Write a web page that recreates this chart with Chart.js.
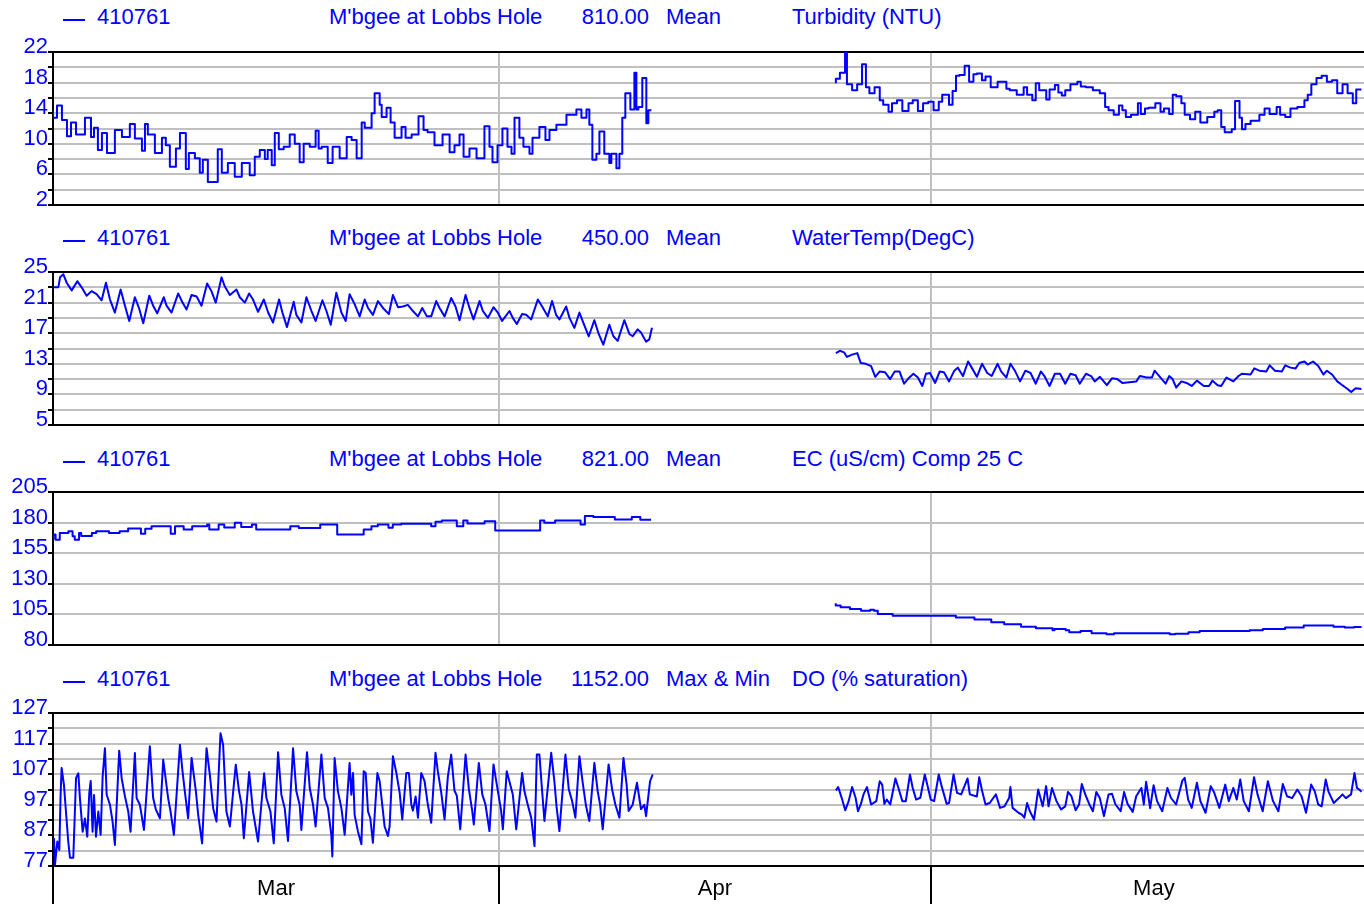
<!DOCTYPE html>
<html><head><meta charset="utf-8">
<script src="https://cdn.jsdelivr.net/npm/chart.js@4.4.1/dist/chart.umd.min.js"></script>
<style>
html,body{margin:0;padding:0;background:#fff;}
body{width:1364px;height:904px;position:relative;overflow:hidden;font-family:"Liberation Sans",Arial,sans-serif;}
.h{position:absolute;color:#0000ff;font-size:22px;line-height:24px;white-space:nowrap;}
.dash{position:absolute;height:0;width:22px;border-top:2px solid #0000ff;}
canvas{position:absolute;left:0;}
</style></head><body>
<script>
// ---------- header texts ----------
const siteId = '410761';
const siteName = "M'bgee at Lobbs Hole";
const varNumbers = ['810.00', '450.00', '821.00', '1152.00'];
const statNames = ['Mean', 'Mean', 'Mean', 'Max & Min'];
const varNames = ['Turbidity (NTU)', 'WaterTemp(DegC)', 'EC (uS/cm) Comp 25 C', 'DO (% saturation)'];

// ---------- x axis (days since 1 March) ----------
const monthLabels = ['Mar', 'Apr', 'May'];
const monthStarts = [0, 31, 61];
const monthMids = [15.5, 46, 76.5];
const dayMax = 91.1;

// ---------- y ticks ----------
const turbTicks = [2, 4, 6, 8, 10, 12, 14, 16, 18, 20, 22];
const turbLabels = [2, 6, 10, 14, 18, 22];
const tempTicks = [5, 7, 9, 11, 13, 15, 17, 19, 21, 23, 25];
const tempLabels = [5, 9, 13, 17, 21, 25];
const ecTicks = [80, 105, 130, 155, 180, 205];
const ecLabels = [80, 105, 130, 155, 180, 205];
const doTicks = [77, 82, 87, 92, 97, 102, 107, 112, 117, 122, 127];
const doLabels = [77, 87, 97, 107, 117, 127];

// ---------- series: [day, value] ----------
const turbidityA = [[0.00,14.4],[0.28,13.4],[0.62,15.0],[0.97,13.1],[1.25,11.0],[1.60,12.8],[2.22,11.2],[2.64,13.4],[2.85,10.9],[3.12,12.1],
[3.40,9.2],[3.75,11.4],[4.30,8.8],[4.79,11.8],[5.34,10.9],[5.69,12.6],[6.18,10.7],[6.39,9.1],[6.59,12.6],[7.08,11.2],
[7.57,8.8],[7.84,10.8],[8.12,9.8],[8.54,7.0],[8.82,9.4],[9.23,11.4],[9.44,6.7],[9.86,8.8],[10.20,8.1],[10.41,6.2],
[10.76,7.9],[11.45,5.0],[11.73,9.3],[12.15,6.2],[12.63,7.5],[13.12,5.7],[13.67,7.5],[14.02,5.9],[14.37,8.3],[14.72,9.2],
[14.92,8.0],[15.20,9.2],[15.41,7.2],[15.69,11.4],[16.03,9.3],[16.45,9.6],[16.80,11.2],[17.14,10.0],[17.42,7.6],[17.84,10.0],
[18.25,9.6],[18.46,11.7],[18.67,9.4],[19.09,9.6],[19.43,7.5],[19.92,9.6],[20.41,8.1],[20.75,10.9],[21.10,10.5],[21.45,8.1],
[21.66,12.8],[22.14,12.1],[22.35,14.0],[22.70,16.6],[22.84,15.1],[23.18,13.5],[23.46,14.7],[23.74,12.8],[24.22,10.8],[24.50,12.2],
[24.92,10.8],[25.40,11.2],[25.75,13.6],[26.03,11.8],[26.51,11.5],[27.07,9.8],[27.56,11.2],[27.90,8.9],[28.25,9.8],[28.53,11.2],
[28.94,8.3],[29.43,9.4],[29.98,8.1],[30.33,12.3],[30.54,9.6],[30.89,7.6],[31.23,9.8],[31.58,12.0],[31.86,9.6],[32.07,8.7],
[32.41,13.4],[32.69,10.8],[33.11,9.6],[33.32,8.7],[33.80,10.8],[34.22,12.2],[34.50,10.5],[34.98,11.8],[35.68,12.5],[36.37,13.8],
[36.72,14.5],[37.07,13.4],[37.27,14.5],[37.48,12.5],[37.76,7.9],[37.97,8.7],[38.31,11.6],[38.66,8.7],[38.80,7.5],[39.15,8.7],
[39.36,6.8],[39.56,8.7],[39.77,13.4],[40.12,16.6],[40.40,14.5],[40.54,19.3],[40.68,14.5],[40.95,14.8],[41.23,18.6],[41.37,12.7],[41.58,14.4]];

const turbidityB = [[54.40,17.9],[54.68,18.5],[55.04,19.3],[55.17,21.9],[55.53,17.8],[55.88,17.0],[56.22,17.8],[56.49,20.4],[56.73,17.4],[57.09,16.6],
[57.45,17.4],[57.69,15.7],[58.06,15.1],[58.30,14.2],[58.65,15.3],[59.02,15.7],[59.45,14.3],[59.74,15.3],[60.10,15.7],[60.46,14.3],
[60.82,15.3],[61.19,15.5],[61.55,14.4],[61.79,15.5],[62.26,16.4],[62.51,15.1],[62.75,16.9],[62.99,18.9],[63.35,19.0],[63.66,20.2],
[63.96,18.1],[64.20,19.1],[64.55,19.2],[64.80,18.3],[65.16,18.8],[65.64,17.4],[66.25,18.1],[66.48,17.2],[66.97,17.0],[67.45,16.4],
[67.69,17.4],[68.05,16.4],[68.29,15.7],[68.53,17.9],[69.02,17.0],[69.25,15.8],[69.62,17.1],[69.86,17.7],[70.10,16.7],[70.34,16.3],
[70.70,17.0],[71.18,17.8],[71.42,18.1],[71.78,17.5],[72.26,17.4],[72.74,17.0],[73.11,16.6],[73.35,14.8],[73.71,14.4],[74.07,13.8],
[74.31,15.0],[74.55,14.4],[74.91,13.5],[75.39,13.8],[75.59,15.3],[75.88,13.9],[76.12,14.6],[76.60,14.7],[76.96,15.3],[77.20,14.2],
[77.56,14.6],[77.81,13.9],[78.05,16.4],[78.41,16.2],[78.64,15.3],[79.01,13.8],[79.37,13.2],[79.73,14.2],[80.21,12.8],[80.70,13.5],
[80.93,14.2],[81.18,14.4],[81.42,12.2],[81.91,11.5],[82.14,11.9],[82.45,15.6],[82.62,13.4],[82.86,11.9],[83.22,12.6],[83.83,13.0],
[84.19,13.8],[84.54,14.6],[85.03,13.9],[85.27,14.8],[85.63,13.8],[85.99,13.5],[86.47,14.6],[86.96,14.8],[87.19,15.7],[87.44,16.4],
[87.80,17.8],[88.16,18.6],[88.52,18.9],[88.88,18.1],[89.24,18.3],[89.61,16.6],[89.96,17.8],[90.32,16.6],[90.56,15.3],[90.92,17.1]];

const waterTempA = [[0.02,23.0],[0.37,23.0],[0.49,24.3],[0.72,24.7],[0.95,23.6],[1.30,22.6],[1.69,23.8],[1.99,23.0],[2.34,21.9],[2.68,22.5],
[3.03,22.1],[3.38,21.3],[3.68,23.6],[3.96,21.4],[4.30,19.7],[4.70,22.7],[5.00,20.6],[5.30,18.6],[5.69,21.7],[5.99,20.2],
[6.27,18.3],[6.69,21.9],[6.96,20.6],[7.24,19.6],[7.70,21.7],[7.89,20.6],[8.24,19.7],[8.70,22.2],[9.00,21.0],[9.28,20.1],
[9.63,22.0],[9.98,21.8],[10.32,20.6],[10.71,23.5],[11.01,22.5],[11.31,21.0],[11.71,24.3],[11.94,23.1],[12.29,22.0],[12.75,22.7],
[12.98,21.7],[13.33,21.0],[13.63,22.2],[13.90,21.4],[14.25,19.8],[14.65,21.4],[14.95,19.7],[15.29,18.4],[15.71,21.4],[15.94,19.7],
[16.26,17.8],[16.73,21.1],[16.91,19.4],[17.26,18.4],[17.61,21.7],[17.96,19.9],[18.25,18.6],[18.72,21.3],[19.00,19.9],[19.30,18.1],
[19.69,22.3],[20.04,19.7],[20.34,18.6],[20.61,22.1],[20.96,20.8],[21.31,19.2],[21.66,21.4],[21.89,20.3],[22.23,19.4],[22.58,21.2],
[22.93,20.3],[23.34,19.5],[23.62,22.0],[23.97,20.4],[24.31,20.5],[24.66,20.7],[25.01,19.9],[25.36,19.2],[25.66,20.3],[25.98,19.2],
[26.28,19.2],[26.63,21.2],[26.86,20.3],[27.21,19.2],[27.67,21.6],[27.97,20.5],[28.25,18.7],[28.67,22.0],[28.94,20.3],[29.22,18.8],
[29.64,21.2],[29.87,19.9],[30.22,19.0],[30.61,20.4],[30.91,19.7],[31.21,18.6],[31.72,19.9],[31.95,19.0],[32.23,18.2],[32.60,19.5],
[32.88,19.4],[33.23,18.8],[33.69,21.4],[33.99,20.5],[34.38,19.2],[34.68,21.2],[34.96,19.4],[35.19,18.8],[35.66,20.5],[35.89,19.0],
[36.23,17.7],[36.58,19.7],[36.93,18.0],[37.23,16.6],[37.62,18.7],[37.92,16.9],[38.24,15.5],[38.66,18.1],[38.94,16.6],[39.24,16.0],
[39.70,18.7],[40.05,16.9],[40.28,16.6],[40.63,17.5],[40.86,17.1],[41.21,15.9],[41.44,16.2],[41.62,17.7]];

const waterTempB = [[54.40,14.4],[54.68,14.7],[54.97,14.5],[55.17,13.9],[55.53,14.2],[55.89,14.4],[56.13,13.1],[56.49,13.0],[56.85,12.7],[57.14,11.3],
[57.45,12.0],[57.81,11.9],[58.17,11.0],[58.49,12.0],[58.82,12.0],[59.14,10.4],[59.45,11.1],[59.79,11.7],[60.10,11.2],[60.41,10.1],
[60.66,11.7],[60.94,11.8],[61.30,10.5],[61.62,12.0],[61.91,11.9],[62.27,10.7],[62.63,12.1],[62.87,12.5],[63.23,11.4],[63.59,13.3],
[63.84,12.5],[64.20,11.3],[64.56,13.0],[64.92,11.8],[65.23,11.4],[65.64,13.0],[65.88,12.0],[66.25,11.2],[66.53,13.0],[66.84,12.1],
[67.20,10.7],[67.57,12.1],[67.93,11.8],[68.29,10.4],[68.65,12.0],[68.89,11.4],[69.25,10.1],[69.62,11.7],[69.98,11.7],[70.34,10.4],
[70.70,11.7],[71.06,11.5],[71.35,10.4],[71.78,11.7],[72.14,11.4],[72.39,10.7],[72.75,11.3],[73.23,10.2],[73.59,11.1],[73.95,11.0],
[74.31,10.5],[74.79,10.6],[75.28,10.7],[75.52,11.4],[76.00,11.2],[76.36,11.2],[76.55,12.1],[76.96,11.2],[77.32,10.4],[77.56,11.4],
[77.80,11.0],[78.05,9.9],[78.41,10.7],[78.77,10.5],[79.13,10.1],[79.49,10.8],[79.97,10.1],[80.33,10.1],[80.57,10.8],[80.93,10.2],
[81.18,10.1],[81.54,11.2],[82.02,10.7],[82.38,11.4],[82.62,11.7],[83.22,11.6],[83.47,12.4],[83.83,12.1],[84.31,12.0],[84.55,12.8],
[84.91,12.1],[85.39,12.0],[85.63,12.8],[85.99,12.5],[86.35,12.4],[86.60,13.1],[86.96,13.3],[87.19,12.9],[87.56,13.3],[87.92,12.7],
[88.28,11.6],[88.52,12.1],[88.88,11.6],[89.24,10.7],[89.60,10.2],[89.96,9.7],[90.21,9.3],[90.52,9.8],[90.92,9.7]];

const conductivityA = [[0.03,166.2],[0.18,170.3],[0.47,166.0],[1.07,171.6],[1.36,173.0],[1.51,168.9],[1.81,166.0],[1.96,171.6],[2.70,169.0],[3.00,171.6],
[3.89,173.0],[4.63,171.6],[5.22,173.0],[6.11,175.2],[6.41,170.8],[6.85,175.0],[8.18,177.1],[8.48,170.8],[9.08,177.0],[9.67,174.4],
[10.71,177.0],[10.86,178.5],[11.51,174.4],[11.90,178.5],[12.63,176.0],[13.08,179.8],[13.82,176.4],[14.12,178.5],[16.49,174.4],[17.08,177.0],
[18.57,175.5],[19.75,178.5],[21.59,170.3],[22.13,174.4],[22.57,177.0],[23.31,178.5],[23.61,175.8],[24.20,178.5],[26.28,179.0],[26.58,177.0],
[27.02,180.7],[28.06,181.8],[28.51,177.0],[28.80,181.8],[29.99,179.2],[30.73,181.2],[33.85,173.5],[34.14,181.8],[34.89,179.8],[36.66,181.8],
[36.96,178.5],[37.55,185.3],[39.04,184.5],[40.22,182.6],[40.81,184.5],[41.56,182.3]];

const conductivityB = [[54.39,114.2],[54.73,112.3],[55.38,110.9],[56.15,109.5],[56.79,107.9],[57.05,108.9],[57.31,107.9],[58.35,105.4],[62.74,103.8],[64.03,102.4],
[65.20,100.8],[66.10,98.6],[67.27,97.0],[68.30,95.0],[69.46,93.7],[69.59,92.0],[70.37,93.0],[70.62,92.0],[71.40,90.4],[72.17,91.5],
[73.21,89.6],[73.73,88.8],[77.60,89.6],[77.99,88.8],[78.90,89.2],[79.68,90.4],[83.16,91.5],[84.07,92.0],[85.62,93.1],[86.91,94.2],
[88.98,95.9],[89.76,95.0],[90.41,94.2],[90.93,94.7]];

const dissolvedOxygenA = [[0.07,86.1],[0.14,77.5],[0.30,85.0],[0.44,82.2],[0.53,100.5],[0.60,109.0],[0.76,103.5],[0.90,94.8],[1.06,85.0],[1.18,79.7],
[1.41,79.7],[1.60,105.7],[1.76,107.3],[1.87,99.2],[2.06,88.2],[2.22,92.5],[2.38,86.6],[2.52,100.8],[2.62,104.8],[2.75,88.2],
[2.85,100.2],[2.99,86.6],[3.15,94.8],[3.31,87.2],[3.45,106.3],[3.61,115.5],[3.73,100.3],[3.96,97.0],[4.14,91.5],[4.30,83.9],
[4.60,114.7],[4.77,105.7],[5.00,99.7],[5.23,94.8],[5.39,88.2],[5.69,113.9],[5.81,99.2],[6.04,97.0],[6.32,88.8],[6.73,116.1],
[6.96,99.2],[7.15,95.4],[7.43,92.6],[7.66,111.7],[8.00,99.2],[8.17,94.8],[8.40,87.2],[8.82,116.6],[9.00,107.9],[9.16,101.4],
[9.39,92.6],[9.63,112.3],[9.93,101.4],[10.09,93.7],[10.36,84.4],[10.67,115.5],[10.90,106.8],[11.13,95.9],[11.36,91.5],[11.64,120.4],
[11.82,116.6],[12.05,94.8],[12.29,89.9],[12.70,110.1],[12.93,101.4],[13.10,97.0],[13.26,86.1],[13.63,107.7],[13.90,94.8],[14.25,85.0],
[14.67,107.3],[14.83,99.2],[15.11,94.8],[15.34,84.4],[15.64,114.2],[15.87,100.3],[16.10,95.9],[16.33,85.2],[16.68,115.5],[16.91,101.4],
[17.14,97.0],[17.26,88.8],[17.65,114.2],[17.84,102.5],[18.07,97.0],[18.25,89.9],[18.65,113.4],[18.88,99.2],[19.11,95.9],[19.34,87.2],
[19.41,80.1],[19.57,112.3],[19.80,101.4],[20.04,95.9],[20.27,87.2],[20.61,110.7],[20.73,100.3],[20.85,107.4],[20.96,93.7],[21.19,88.3],
[21.43,84.1],[21.59,108.0],[21.73,107.4],[21.89,94.8],[22.05,92.6],[22.23,84.6],[22.54,107.4],[22.70,104.7],[22.88,97.0],[23.04,90.0],
[23.27,86.8],[23.39,90.0],[23.62,112.9],[23.86,107.4],[24.09,100.9],[24.27,92.2],[24.55,107.4],[24.73,107.4],[24.90,97.0],[25.01,95.1],
[25.20,99.7],[25.36,92.8],[25.59,107.4],[25.82,104.7],[26.05,97.0],[26.28,91.1],[26.58,114.0],[26.74,108.0],[26.98,100.9],[27.21,92.2],
[27.44,106.3],[27.67,113.4],[27.90,101.6],[28.06,100.0],[28.30,89.0],[28.67,113.4],[28.90,102.1],[29.13,95.0],[29.24,90.6],[29.59,110.7],
[29.83,100.4],[30.05,97.1],[30.33,88.4],[30.61,110.2],[30.84,103.6],[31.14,95.0],[31.26,89.0],[31.53,108.0],[31.77,103.6],[31.95,100.4],
[32.19,89.0],[32.60,107.4],[32.76,101.4],[32.99,97.0],[33.23,92.8],[33.46,83.5],[33.62,113.4],[33.80,113.4],[33.99,101.4],[34.15,91.7],
[34.62,114.0],[34.84,104.7],[35.00,96.0],[35.19,88.4],[35.61,113.4],[35.84,102.1],[36.07,98.3],[36.30,92.8],[36.58,112.9],[36.81,104.2],
[37.04,96.6],[37.27,91.7],[37.62,110.7],[37.85,101.4],[38.02,97.0],[38.20,89.0],[38.61,110.2],[38.85,102.1],[39.08,97.0],[39.36,92.8],
[39.64,112.3],[39.86,103.6],[40.00,95.0],[40.28,97.0],[40.58,104.2],[40.86,95.6],[41.09,97.0],[41.21,93.3],[41.49,104.7],[41.67,106.9]];

const dissolvedOxygenB = [[54.40,101.7],[54.56,102.8],[54.81,99.2],[55.05,95.2],[55.29,98.2],[55.53,102.8],[55.77,99.3],[55.94,94.9],[56.13,97.1],[56.32,100.4],
[56.56,102.8],[56.85,97.1],[57.21,98.2],[57.45,104.7],[57.62,103.6],[57.77,97.3],[57.94,98.7],[58.18,97.1],[58.54,105.6],[58.78,102.0],
[59.02,98.2],[59.26,98.2],[59.55,106.9],[59.74,102.5],[59.98,98.7],[60.27,99.3],[60.58,106.9],[60.75,103.6],[60.99,98.7],[61.23,98.2],
[61.55,106.9],[61.72,103.6],[62.10,97.3],[62.27,97.6],[62.58,106.9],[62.82,100.9],[63.11,100.4],[63.55,105.6],[63.71,100.4],[64.20,99.7],
[64.36,106.0],[64.56,101.6],[64.80,97.1],[65.09,97.6],[65.52,100.4],[65.81,96.0],[66.12,96.5],[66.44,99.2],[66.53,102.8],[66.68,96.0],
[67.09,94.4],[67.33,93.8],[67.50,92.8],[67.69,97.6],[67.88,94.9],[68.17,92.2],[68.46,102.0],[68.77,96.5],[69.01,103.1],[69.18,96.5],
[69.42,102.5],[69.73,98.2],[70.05,95.5],[70.34,96.5],[70.53,101.2],[70.77,99.8],[71.06,95.2],[71.30,97.1],[71.49,103.8],[71.73,100.4],
[72.02,97.1],[72.26,94.9],[72.50,101.2],[72.74,99.2],[73.03,93.3],[73.35,100.4],[73.59,100.6],[73.83,97.1],[74.19,94.9],[74.43,101.2],
[74.67,97.3],[75.03,94.7],[75.27,99.8],[75.63,102.5],[75.80,97.1],[75.96,104.5],[76.24,95.9],[76.48,103.4],[76.72,98.2],[77.08,94.9],
[77.44,102.5],[77.68,99.3],[78.04,97.1],[78.48,104.9],[78.64,105.8],[78.88,98.7],[79.13,96.0],[79.49,104.2],[79.73,98.2],[80.09,94.4],
[80.45,103.1],[80.69,101.0],[81.05,96.0],[81.46,103.6],[81.70,98.2],[82.02,102.5],[82.26,98.7],[82.50,105.3],[82.74,98.2],[83.10,94.9],
[83.46,106.0],[83.70,100.4],[84.06,94.9],[84.42,104.7],[84.78,98.2],[85.15,94.9],[85.46,103.8],[85.75,99.8],[86.11,99.2],[86.47,102.0],
[86.76,99.8],[87.07,94.4],[87.43,103.6],[87.67,101.5],[87.92,97.1],[88.16,96.5],[88.44,105.3],[88.64,101.2],[89.00,97.6],[89.36,99.2],
[89.60,100.4],[89.84,99.2],[90.20,100.4],[90.44,107.4],[90.61,102.5],[90.80,101.9],[90.92,101.2]];

// ---------- layout ----------
const FONT = '"Liberation Sans", Arial, sans-serif';
const BLUE = '#0000ff';
const GRID = '#c0c0c0';
const headerCenters = [17, 238, 459, 679];
const plotTops = [52, 272, 492, 713];
const plotH = 153;

function addText(txt, left, top, extra) {
  const d = document.createElement('div');
  d.className = 'h';
  d.textContent = txt;
  d.style.left = left + 'px';
  d.style.top = top + 'px';
  if (extra) Object.assign(d.style, extra);
  document.body.appendChild(d);
}
headerCenters.forEach((cy, i) => {
  const dash = document.createElement('div');
  dash.className = 'dash';
  dash.style.left = '63px';
  dash.style.top = (cy + 2) + 'px';
  document.body.appendChild(dash);
  addText(siteId, 97, cy - 12);
  addText(siteName, 329, cy - 12);
  addText(varNumbers[i], 529, cy - 12, { width: '120px', textAlign: 'right' });
  addText(statNames[i], 666, cy - 12);
  addText(varNames[i], 792, cy - 12);
});

function toXY(arr) { return arr.map(p => ({ x: p[0], y: p[1] })); }

function makePanel(idx, series, stepped, yMin, yMax, yTicks, yLabels, isBottom) {
  const c = document.createElement('canvas');
  const top = plotTops[idx] - 20;
  const h = isBottom ? (904 - top) : (20 + plotH + 14);
  c.width = 1364; c.height = h;
  c.style.top = top + 'px';
  c.style.width = '1364px'; c.style.height = h + 'px';
  document.body.appendChild(c);

  const xScale = {
    type: 'linear', min: 0, max: dayMax,
    afterBuildTicks: s => {
      const vals = isBottom ? [0, monthMids[0], monthStarts[1], monthMids[1], monthStarts[2], monthMids[2], dayMax] : [monthStarts[1], monthStarts[2]];
      s.ticks = vals.map(v => ({ value: v }));
    },
    afterFit: s => { s.height = isBottom ? 38 : 0; },
    ticks: isBottom ? {
      autoSkip: false, maxRotation: 0, minRotation: 0, color: '#000',
      font: { family: FONT, size: 22 }, padding: -28,
      callback: v => { const k = monthMids.indexOf(v); return k >= 0 ? monthLabels[k] : ''; }
    } : { display: false },
    grid: {
      color: ctx => (ctx.tick && (ctx.tick.value === monthStarts[1] || ctx.tick.value === monthStarts[2])) ? GRID : 'rgba(0,0,0,0)',
      lineWidth: 2,
      drawTicks: isBottom,
      tickLength: 38,
      tickWidth: 2,
      tickColor: ctx => (ctx.tick && monthStarts.indexOf(ctx.tick.value) >= 0) ? '#000' : 'rgba(0,0,0,0)'
    },
    border: { display: false }
  };

  const yScale = {
    type: 'linear', min: yMin, max: yMax,
    afterBuildTicks: s => { s.ticks = yTicks.map(v => ({ value: v })); },
    afterFit: s => { s.width = 53; },
    ticks: {
      autoSkip: false, color: BLUE, padding: 0, labelOffset: -5,
      font: { family: FONT, size: 22 },
      callback: v => yLabels.indexOf(v) >= 0 ? String(v) : ''
    },
    grid: {
      color: ctx => (ctx.tick && (ctx.tick.value === yMin || ctx.tick.value === yMax)) ? '#000' : GRID,
      lineWidth: 2, tickLength: 5, tickWidth: 2, tickColor: '#000'
    },
    border: { display: true, color: '#000', width: 2 }
  };

  new Chart(c, {
    type: 'line',
    data: {
      datasets: series.map(s => ({
        data: toXY(s), borderColor: BLUE, borderWidth: 2, pointRadius: 0,
        fill: false, tension: 0, stepped: stepped, borderJoinStyle: 'round'
      }))
    },
    options: {
      responsive: false, animation: false, devicePixelRatio: 1,
      layout: { padding: { top: 20, bottom: isBottom ? 0 : 14, left: 0, right: 0 } },
      plugins: { legend: { display: false }, tooltip: { enabled: false }, title: { display: false } },
      scales: { x: xScale, y: yScale }
    }
  });
}

makePanel(0, [turbidityA, turbidityB], 'after', 2, 22, turbTicks, turbLabels, false);
makePanel(1, [waterTempA, waterTempB], false, 5, 25, tempTicks, tempLabels, false);
makePanel(2, [conductivityA, conductivityB], 'after', 80, 205, ecTicks, ecLabels, false);
makePanel(3, [dissolvedOxygenA, dissolvedOxygenB], false, 77, 127, doTicks, doLabels, true);
</script>
</body></html>
